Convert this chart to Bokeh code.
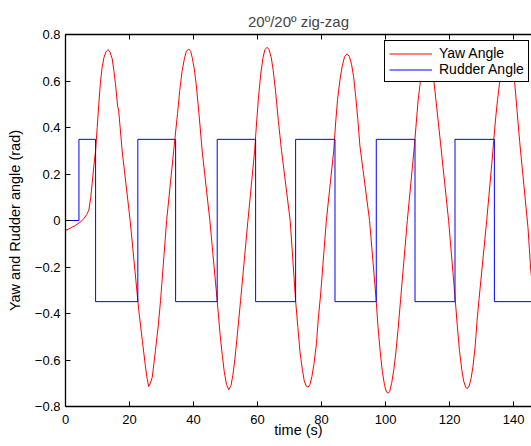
from bokeh.plotting import figure
from bokeh.models import FixedTicker, LinearAxis, Range1d, Legend, LegendItem
from bokeh.embed import file_html
from bokeh.resources import INLINE

# ---- data ----
yaw_t = [0.0, 1.5, 3.0, 4.5, 5.7, 6.6, 7.3, 7.9, 8.4, 8.9, 9.4, 9.9, 10.4, 10.9, 11.4, 12.0, 12.6,
         13.3, 13.9, 14.6, 15.1, 15.6, 16.3, 16.6, 17.7, 20.2, 22.6, 22.9, 24.0, 25.0, 25.5, 26.0,
         26.5, 27.1, 28.1, 29.0, 29.7, 31.6, 33.8, 34.4, 35.0, 35.7, 36.4, 37.2, 37.8, 38.5, 39.1,
         39.6, 40.2, 40.8, 41.7, 42.7, 45.1, 47.4, 48.3, 49.0, 49.6, 50.3, 51.0, 51.7, 52.3, 52.9,
         53.7, 54.7, 57.0, 59.1, 59.7, 60.3, 61.0, 61.7, 62.3, 63.0, 63.6, 64.3, 64.9, 65.6, 66.5,
         67.5, 70.2, 71.9, 72.6, 73.3, 74.0, 74.6, 75.2, 75.8, 76.4, 77.0, 77.6, 78.4, 79.0, 79.7,
         81.5, 83.8, 84.4, 85.0, 85.7, 86.4, 87.2, 88.0, 88.7, 89.4, 90.0, 90.7, 91.3, 92.0, 95.0,
         97.0, 97.6, 98.3, 99.0, 99.7, 100.3, 100.8, 101.3, 101.9, 102.6, 103.2, 103.9, 104.7,
         106.8, 109.0, 109.6, 110.2, 110.9, 111.6, 112.3, 113.0, 113.7, 114.4, 115.1, 115.8, 116.5,
         117.2, 119.7, 121.8, 122.4, 123.1, 123.8, 124.4, 125.0, 125.5, 126.1, 126.7, 127.3, 128.0,
         128.6, 129.2, 131.6, 133.3, 133.8, 134.4, 135.0, 135.7, 136.4, 137.2, 138.0, 138.8, 139.6,
         140.3, 141.1, 141.9, 144.5, 145.3, 146.0]
yaw_v = [-0.043, -0.033, -0.022, -0.008, 0.007, 0.025, 0.045, 0.10, 0.17, 0.24, 0.30, 0.40, 0.50,
         0.59, 0.655, 0.70, 0.725, 0.735, 0.725, 0.695, 0.645, 0.59, 0.49, 0.475, 0.30, 0.0, -0.345,
         -0.387, -0.516, -0.63, -0.68, -0.714, -0.70, -0.674, -0.56, -0.45, -0.344, 0.0, 0.30, 0.38,
         0.46, 0.56, 0.64, 0.70, 0.728, 0.738, 0.728, 0.70, 0.655, 0.59, 0.46, 0.30, 0.0, -0.345,
         -0.49, -0.58, -0.65, -0.705, -0.728, -0.71, -0.665, -0.60, -0.49, -0.344, 0.0, 0.30, 0.42,
         0.53, 0.63, 0.70, 0.735, 0.745, 0.735, 0.70, 0.645, 0.56, 0.43, 0.30, 0.0, -0.345, -0.46,
         -0.57, -0.64, -0.69, -0.712, -0.717, -0.705, -0.67, -0.62, -0.53, -0.42, -0.32, 0.0, 0.30,
         0.42, 0.52, 0.60, 0.66, 0.705, 0.717, 0.705, 0.67, 0.62, 0.53, 0.44, 0.32, 0.0, -0.33,
         -0.45, -0.56, -0.65, -0.71, -0.738, -0.743, -0.735, -0.70, -0.64, -0.57, -0.47, -0.34, 0.0,
         0.32, 0.42, 0.52, 0.60, 0.67, 0.715, 0.73, 0.715, 0.67, 0.60, 0.51, 0.42, 0.33, 0.0, -0.345,
         -0.45, -0.56, -0.64, -0.69, -0.716, -0.724, -0.712, -0.68, -0.63, -0.54, -0.43, -0.34, 0.0,
         0.26, 0.344, 0.44, 0.52, 0.60, 0.66, 0.71, 0.73, 0.71, 0.66, 0.60, 0.47, 0.34, -0.03, -0.2,
         -0.3]

rudder_t = [0.0, 4.2, 9.4, 22.6, 34.4, 47.4, 59.4, 71.9, 84.2, 97.1, 109.2, 121.7, 134.0, 146.0]
rudder_v = [0.0, 0.349, -0.349, 0.349, -0.349, 0.349, -0.349, 0.349, -0.349, 0.349, -0.349,
            0.349, -0.349, -0.349]

x_ticks = [0, 20, 40, 60, 80, 100, 120, 140]
y_ticks = [-0.8, -0.6, -0.4, -0.2, 0.0, 0.2, 0.4, 0.6, 0.8]
y_tick_labels = ["\u22120.8", "\u22120.6", "\u22120.4", "\u22120.2", "0", "0.2", "0.4", "0.6", "0.8"]

FONT = "Liberation Sans"

p = figure(width=531, height=446, output_backend="svg", toolbar_location=None,
           x_range=Range1d(0, 145.6), y_range=Range1d(-0.8, 0.8),
           min_border_left=65, min_border_right=0, min_border_top=34, min_border_bottom=40,
           title="20\u00ba/20\u00ba zig-zag")
p.title.text_font = FONT
p.title.text_font_size = "15px"
p.title.text_font_style = "normal"
p.title.align = "center"
p.title.standoff = 10
p.outline_line_color = None
p.xgrid.visible = False
p.ygrid.visible = False
p.background_fill_color = "white"
p.border_fill_color = "white"

yaw_r = p.line(yaw_t, yaw_v, line_color="#ff0000", line_width=1)
rud_r = p.step(rudder_t, rudder_v, mode="after", line_color="#0000ff", line_width=1)

for ax in (p.xaxis[0], p.yaxis[0]):
    ax.axis_line_color = "black"
    ax.axis_line_width = 1.3
    ax.major_tick_in = 5
    ax.major_tick_out = 0
    ax.minor_tick_line_color = None
    ax.major_tick_line_color = "black"
    ax.major_label_text_font = FONT
    ax.major_label_text_font_size = "13px"
    ax.major_label_text_color = "black"
    ax.axis_label_text_font = FONT
    ax.axis_label_text_font_size = "14.5px"
    ax.axis_label_text_font_style = "normal"
    ax.axis_label_text_color = "black"

p.xaxis[0].ticker = FixedTicker(ticks=x_ticks)
p.yaxis[0].ticker = FixedTicker(ticks=y_ticks)
p.yaxis[0].major_label_overrides = {v: s for v, s in zip(y_ticks, y_tick_labels)}
p.xaxis[0].axis_label = "time (s)"
p.yaxis[0].axis_label = "Yaw and Rudder angle (rad)"
p.xaxis[0].major_label_standoff = 8
p.xaxis[0].axis_label_standoff = -5
p.yaxis[0].major_label_standoff = 5
p.yaxis[0].axis_label_standoff = 9

top = LinearAxis(ticker=FixedTicker(ticks=x_ticks))
top.axis_line_color = "black"
top.axis_line_width = 1.3
top.major_tick_in = 5
top.major_tick_out = 0
top.minor_tick_line_color = None
top.major_label_text_font_size = "1px"
top.major_label_text_color = None
top.major_label_text_alpha = 0
top.major_label_standoff = 0
p.add_layout(top, "above")

legend = Legend(items=[LegendItem(label="Yaw Angle", renderers=[yaw_r]),
                       LegendItem(label="Rudder Angle", renderers=[rud_r])],
                location=(319, 324))
legend.label_text_font = FONT
legend.label_text_font_size = "14px"
legend.label_text_color = "black"
legend.label_height = 15
legend.glyph_height = 15
legend.glyph_width = 43
legend.label_standoff = 7
legend.spacing = 0
legend.padding = 4
legend.margin = 0
legend.border_line_color = "black"
legend.border_line_alpha = 1
legend.border_line_width = 1
legend.background_fill_color = "white"
legend.background_fill_alpha = 1
p.add_layout(legend)

open("out.html", "w").write(file_html(p, INLINE))
